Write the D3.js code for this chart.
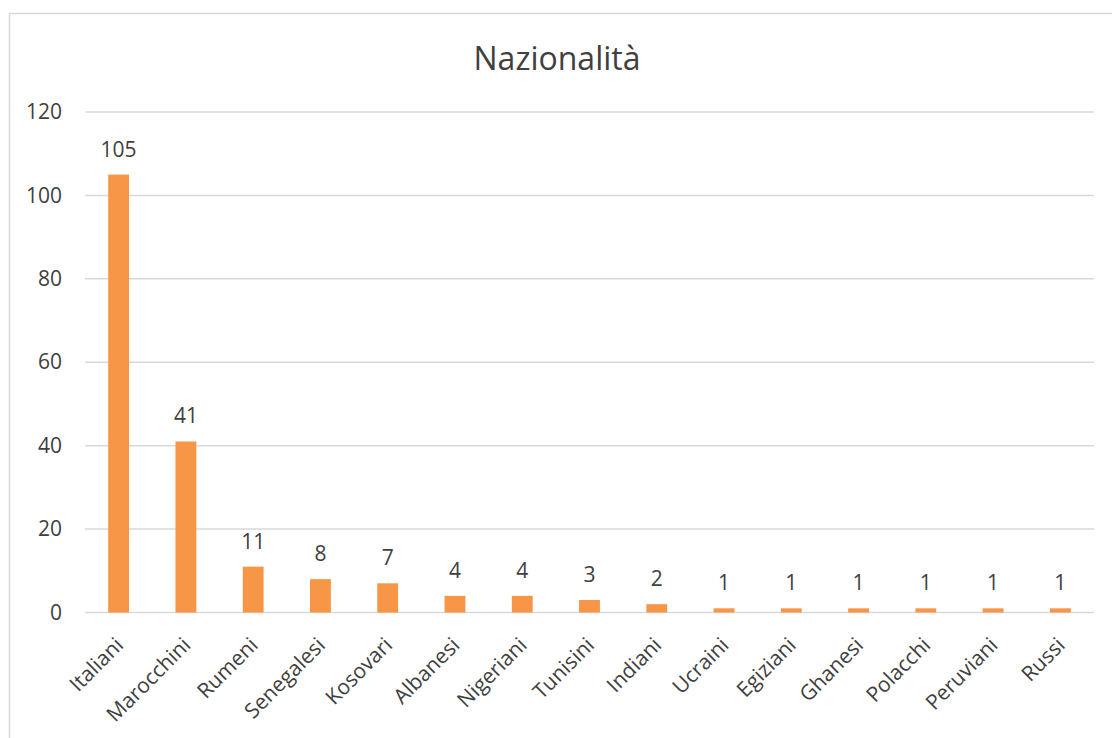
<!DOCTYPE html>
<html>
<head>
<meta charset="utf-8">
<script src="https://cdn.jsdelivr.net/npm/d3@7"></script>
<style>
  html, body { margin: 0; padding: 0; background: #fff; }
  svg { display: block; font-family: "Open Sans", "Liberation Sans", sans-serif; }
</style>
</head>
<body>
<svg id="chart" width="1112" height="738"></svg>
<script>
// Nationality counts
const categories = ["Italiani", "Marocchini", "Rumeni", "Senegalesi", "Kosovari", "Albanesi",
  "Nigeriani", "Tunisini", "Indiani", "Ucraini", "Egiziani", "Ghanesi", "Polacchi", "Peruviani", "Russi"];
const counts = [105, 41, 11, 8, 7, 4, 4, 3, 2, 1, 1, 1, 1, 1, 1];
const yTicks = [0, 20, 40, 60, 80, 100, 120];
const chartTitle = "Nazionalità";

const svg = d3.select("#chart");
const textColor = "#404040";
const gridColor = "#d9d9d9";
const barColor = "#f79646";

// chart frame
svg.append("rect")
  .attr("x", 9.5).attr("y", 13.5)
  .attr("width", 1120).attr("height", 740)
  .attr("fill", "#fff").attr("stroke", gridColor).attr("stroke-width", 1.5);

const plot = { left: 85, right: 1094, top: 112, bottom: 612.5 };

const x = d3.scaleBand()
  .domain(categories)
  .range([plot.left, plot.right])
  .paddingInner(0.69)
  .paddingOuter(0.345);

const y = d3.scaleLinear()
  .domain([0, 120])
  .range([plot.bottom, plot.top]);

// title
svg.append("text")
  .attr("x", 557).attr("y", 70)
  .attr("text-anchor", "middle")
  .attr("fill", textColor)
  .attr("font-size", 32)
  .text(chartTitle);

// gridlines
svg.append("g")
  .selectAll("line")
  .data(yTicks)
  .join("line")
  .attr("x1", plot.left).attr("x2", plot.right)
  .attr("y1", d => y(d)).attr("y2", d => y(d))
  .attr("stroke", gridColor).attr("stroke-width", 1.5);

// y axis labels
const yAxis = d3.axisLeft(y).tickValues(yTicks).tickSize(0).tickPadding(0);
const gy = svg.append("g").attr("transform", `translate(62,0)`).call(yAxis);
gy.attr("font-size", null).attr("font-family", null);
gy.select(".domain").remove();
gy.selectAll("text")
  .attr("fill", textColor)
  .style("font-size", "21px");

// bars
svg.append("g")
  .selectAll("rect")
  .data(categories)
  .join("rect")
  .attr("x", d => x(d))
  .attr("width", x.bandwidth())
  .attr("y", (d, i) => y(counts[i]))
  .attr("height", (d, i) => y(0) - y(counts[i]))
  .attr("fill", barColor);

// value labels
svg.append("g")
  .selectAll("text")
  .data(categories)
  .join("text")
  .attr("x", d => x(d) + x.bandwidth() / 2)
  .attr("y", (d, i) => y(counts[i]) - 18)
  .attr("text-anchor", "middle")
  .attr("fill", textColor)
  .style("font-size", "21px")
  .text((d, i) => counts[i]);

// category labels
const xAxis = d3.axisBottom(x).tickSize(0).tickPadding(0);
const gx = svg.append("g").attr("transform", `translate(0,${plot.bottom})`).call(xAxis);
gx.attr("font-size", null).attr("font-family", null);
gx.select(".domain").remove();
gx.selectAll("text")
  .attr("fill", textColor)
  .style("font-size", "21px")
  .attr("text-anchor", "end")
  .attr("dy", null)
  .attr("y", 0)
  .attr("transform", "translate(6,34) rotate(-45)");
</script>
</body>
</html>
